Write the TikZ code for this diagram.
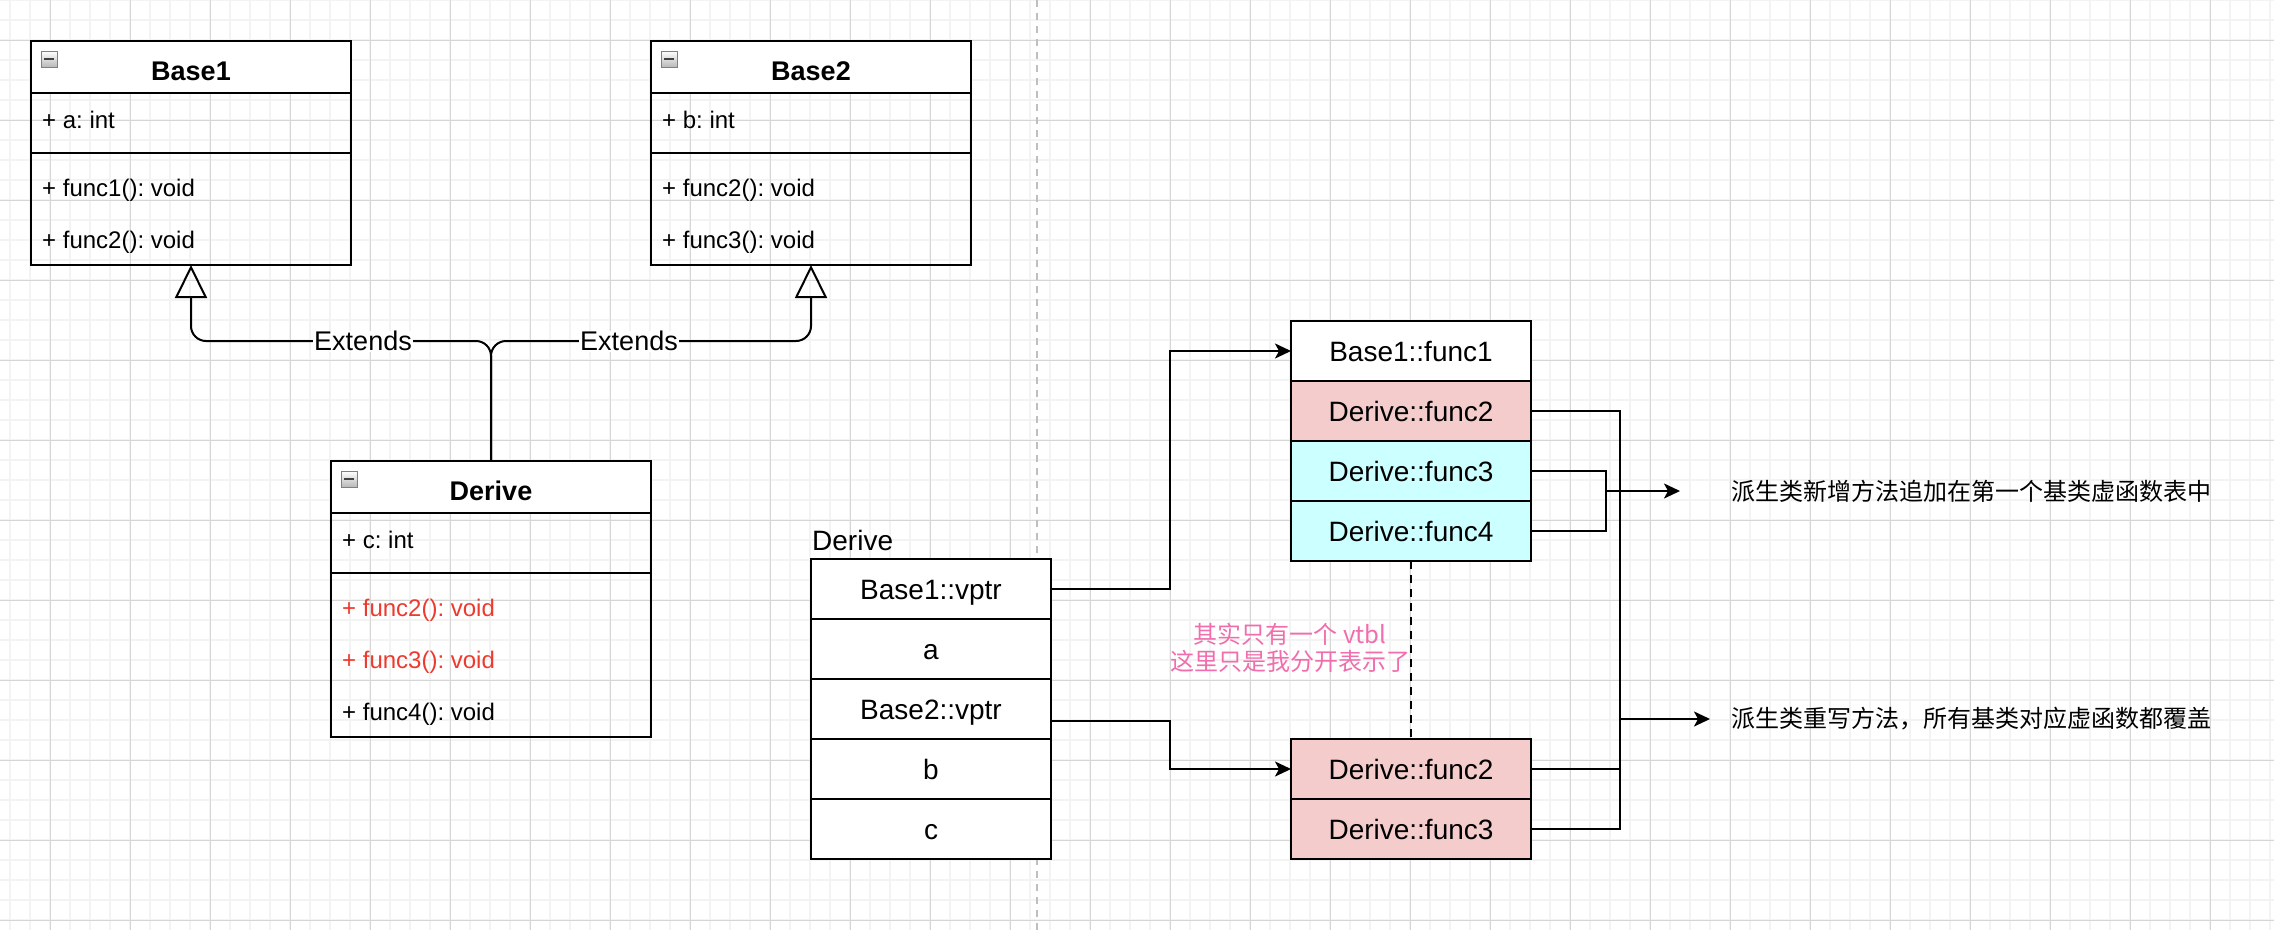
\documentclass[tikz,border=0pt]{standalone}
\usepackage{fontspec}
\setmainfont{Liberation Sans}
\newfontfamily\cjk{Noto Sans CJK SC}
\usetikzlibrary{arrows.meta,positioning,calc}
\frenchspacing

\definecolor{gridminor}{HTML}{F3F3F3}
\definecolor{gridmajor}{HTML}{D6D6D6}
\definecolor{redtext}{HTML}{EE3A2E}
\definecolor{pinknote}{HTML}{F06EAD}
\definecolor{overfill}{HTML}{F4CCCC}
\definecolor{newfill}{HTML}{CCFFFF}

\begin{document}
\begin{tikzpicture}[x=1pt,y=-1pt,
	box/.style={draw,line width=2pt,anchor=north west,inner sep=0pt,outer sep=0pt,minimum width=320pt},
	member/.style={anchor=west,inner sep=0pt,text height=17pt,text depth=0pt,font=\fontsize{24}{28}\selectfont},
	title/.style={inner sep=0pt,text height=19pt,text depth=0pt,font=\fontsize{27}{32}\selectfont\bfseries},
	cell/.style={draw,line width=2pt,fill=white,minimum width=240pt,minimum height=60pt,inner sep=0pt,outer sep=0pt,text height=20pt,text depth=0pt,font=\fontsize{28}{32}\selectfont},
	extend/.style={line width=2pt,rounded corners=15pt,-{Triangle[open,length=33pt,width=32pt]}},
	ptr/.style={line width=2pt,-{Stealth[length=16pt,width=15pt,inset=4pt]}},
	link/.style={line width=2pt},
	note/.style={anchor=west,inner sep=0pt,font=\cjk\fontsize{24}{28}\selectfont}]
		\newcommand{\collapseicon}[1]{%
			\shade[top color=white,bottom color=gray!55,draw=gray,line width=1pt] ($(#1)+(10,10)$) rectangle ++(16,16);
			\draw[line width=2pt,black!75] ($(#1)+(13,18)$) -- ++(10,0);}
		\useasboundingbox (0,0) rectangle (2274,930);
		\fill[white] (0,0) rectangle (2274,930);
		\foreach \x in {10,30,...,2270} \draw[gridminor,line width=1.3pt] (\x,0) -- (\x,930); %grid
		\foreach \y in {0,20,...,920} \draw[gridminor,line width=1.3pt] (0,\y) -- (2274,\y);
		\foreach \x in {50,130,...,2250} \draw[gridmajor,line width=1pt] (\x,0) -- (\x,930);
		\foreach \y in {40,120,...,920} \draw[gridmajor,line width=1pt] (0,\y) -- (2274,\y);
		\draw[gray!50,line width=2pt,dash pattern=on 7pt off 6pt] (1037,0) -- (1037,930); %separator
		% Base1
		\node[box,fill=white,minimum height=52pt] (b1h) at (31,41) {};
		\node[box,minimum height=60pt] (b1a) at (b1h.south west) {};
		\node[box,minimum height=112pt] (b1m) at (b1a.south west) {};
		\node[title] (b1t) at ($(b1h.center)+(0,4)$) {Base1};
		\collapseicon{b1h.north west}
		\node[member] (b1x) at (42,120) {+ a: int};
		\node[member] (b1f1) at (42,188) {+ func1(): void};
		\node[member] (b1f2) at (42,240) {+ func2(): void};
		% Base2
		\node[box,fill=white,minimum height=52pt] (b2h) at (651,41) {};
		\node[box,minimum height=60pt] (b2a) at (b2h.south west) {};
		\node[box,minimum height=112pt] (b2m) at (b2a.south west) {};
		\node[title] (b2t) at ($(b2h.center)+(0,4)$) {Base2};
		\collapseicon{b2h.north west}
		\node[member] (b2x) at (662,120) {+ b: int};
		\node[member] (b2f2) at (662,188) {+ func2(): void};
		\node[member] (b2f3) at (662,240) {+ func3(): void};
		% Derive
		\node[box,fill=white,minimum height=52pt] (d1h) at (331,461) {};
		\node[box,minimum height=60pt] (d1a) at (d1h.south west) {};
		\node[box,minimum height=164pt] (d1m) at (d1a.south west) {};
		\node[title] (d1t) at ($(d1h.center)+(0,4)$) {Derive};
		\collapseicon{d1h.north west}
		\node[member] (d1x) at (342,540) {+ c: int};
		\node[member,text=redtext] (d1f2) at (342,608) {+ func2(): void};
		\node[member,text=redtext] (d1f3) at (342,660) {+ func3(): void};
		\node[member] (d1f4) at (342,712) {+ func4(): void};
		% Extends
		\coordinate (j) at (491,341); %junction
		\draw[extend] (d1h.north) -- (j) -| (b1m.south);
		\draw[extend] (d1h.north) -- (j) -| (b2m.south);
		\node[fill=white,inner sep=1pt,text height=19pt,text depth=0pt,font=\fontsize{27}{32}\selectfont] (e1) at (363,341) {Extends};
		\node[fill=white,inner sep=1pt,text height=19pt,text depth=0pt,font=\fontsize{27}{32}\selectfont] (e2) at (629,341) {Extends};
		% object layout
		\node[anchor=west,inner sep=0pt,text height=20pt,text depth=0pt,font=\fontsize{28}{32}\selectfont] (dl) at (812,540) {Derive};
		\node[cell] (vp1) at (931,589) {Base1::vptr};
		\node[cell,below=0pt of vp1] (ma) {a};
		\node[cell,below=0pt of ma] (vp2) {Base2::vptr};
		\node[cell,below=0pt of vp2] (mb) {b};
		\node[cell,below=0pt of mb] (mc) {c};
		% vtbl
		\node[cell] (ft1) at (1411,351) {Base1::func1};
		\node[cell,fill=overfill,below=0pt of ft1] (ft2) {Derive::func2};
		\node[cell,fill=newfill,below=0pt of ft2] (ft3) {Derive::func3};
		\node[cell,fill=newfill,below=0pt of ft3] (ft4) {Derive::func4};
		\node[cell,fill=overfill] (gt1) at (1411,769) {Derive::func2};
		\node[cell,fill=overfill,below=0pt of gt1] (gt2) {Derive::func3};
		\draw[ptr] (vp1.east) -- ++(119,0) |- (ft1.west);
		\draw[ptr] ($(vp2.east)+(0,12)$) -- ++(119,0) |- (gt1.west);
		\draw[link,dash pattern=on 8pt off 6pt] (ft4.south) -- (gt1.north);
		\node[align=center,inner sep=0pt,text=pinknote,font=\cjk\fontsize{24}{27}\selectfont] (vn) at (1290,648) {其实只有一个 vtbl\\这里只是我分开表示了};
		% notes
		\node[note] (n1) at (1731,491) {派生类新增方法追加在第一个基类虚函数表中};
		\node[note] (n2) at (1731,719) {派生类重写方法，所有基类对应虚函数都覆盖};
		\draw[link] (ft2.east) -- ++(89,0) |- (gt2.east);
		\draw[link] (gt1.east) -- ++(89,0);
		\coordinate (m2) at (1620,719);
		\draw[ptr] (m2) -- ([xshift=-21pt]n2.west);
		\draw[link] (ft3.east) -- ++(75,0) |- (ft4.east);
		\coordinate (m1) at (1606,491);
		\draw[ptr] (m1) -- ([xshift=-51pt]n1.west);
	\end{tikzpicture}
\end{document}
